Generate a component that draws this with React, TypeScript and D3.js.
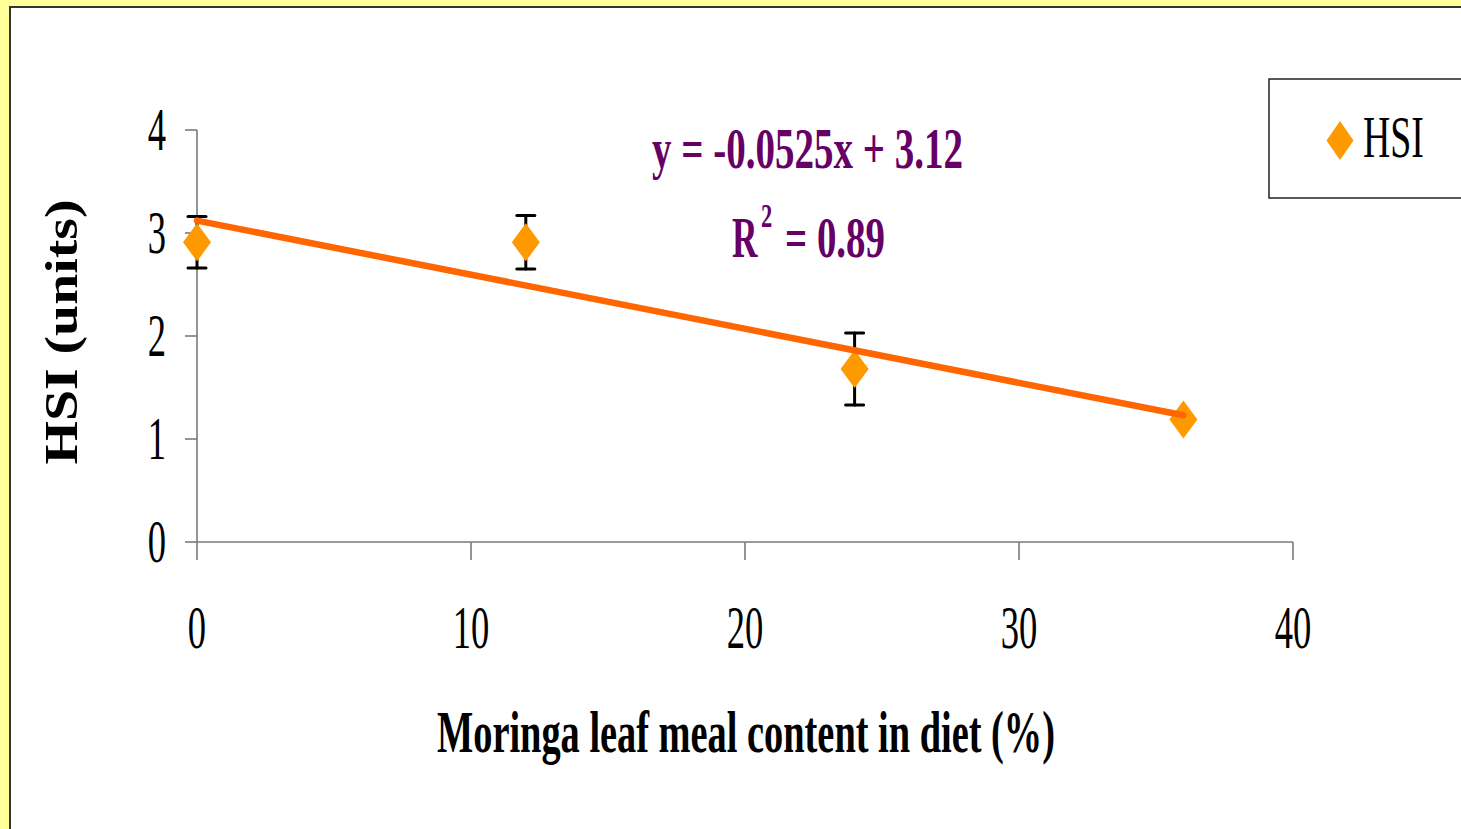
import React from "react";
import * as d3 from "d3";

// Dietary Moringa leaf meal inclusion (%) vs hepatosomatic index
const dietLevels = [0, 12, 24, 36];
const hsiMeans = [2.91, 2.91, 1.68, 1.19];
const hsiErrors = [0.25, 0.26, 0.35, 0];
const xTicks = [0, 10, 20, 30, 40];
const yTicks = [0, 1, 2, 3, 4];
const trendSlope = -0.0525;
const trendIntercept = 3.12;
const rSquared = 0.89;

const W = 1461;
const H = 829;
const SERIF = "'Liberation Serif', 'Times New Roman', serif";

type CTextProps = {
  x: number;
  y: number;
  text: string;
  size: number;
  sx?: number;
  anchor?: "start" | "middle" | "end";
  weight?: string;
  fill?: string;
  dy?: string;
};

// Horizontally condensed text
function CText({ x, y, text, size, sx = 0.6, anchor = "middle", weight = "normal", fill = "#000", dy }: CTextProps) {
  return (
    <text
      transform={`translate(${x},${y}) scale(${sx},1)`}
      textAnchor={anchor}
      fontFamily={SERIF}
      fontSize={size}
      fontWeight={weight}
      fill={fill}
      dy={dy}
    >
      {text}
    </text>
  );
}

function diamond(cx: number, cy: number, w: number, h: number) {
  const p = d3.path();
  p.moveTo(cx, cy - h / 2);
  p.lineTo(cx + w / 2, cy);
  p.lineTo(cx, cy + h / 2);
  p.lineTo(cx - w / 2, cy);
  p.closePath();
  return p.toString();
}

export default function App() {
  const x = d3.scaleLinear().domain([0, 40]).range([197, 1293]);
  const y = d3.scaleLinear().domain([0, 4]).range([542, 130]);

  const trend = d3
    .line<number>()
    .x((d) => x(d))
    .y((d) => y(trendSlope * d + trendIntercept));
  const trendEnds = [dietLevels[0], dietLevels[dietLevels.length - 1]];

  const axisColor = "#7a7a7a";
  const orange = "#FF9900";
  const lineOrange = "#FF6600";
  const purple = "#660066";

  return (
    <svg
      width={W}
      height={H}
      style={{ position: "absolute", left: 0, top: 0, display: "block" }}
    >
      <rect x={0} y={0} width={W} height={H} fill="#FFFF99" />
      <rect x={10} y={7} width={W + 20} height={H + 20} fill="#fff" stroke="#333" strokeWidth={2} />

      {/* axes */}
      <line x1={x(0)} x2={x(40)} y1={y(0)} y2={y(0)} stroke={axisColor} strokeWidth={1.6} />
      <line x1={x(0)} x2={x(0)} y1={y(4)} y2={y(0)} stroke={axisColor} strokeWidth={1.6} />
      {yTicks.map((t) => (
        <g key={`yt${t}`}>
          <line x1={x(0) - 12} x2={x(0)} y1={y(t)} y2={y(t)} stroke={axisColor} strokeWidth={1.6} />
          <CText x={x(0) - 31} y={y(t)} dy="0.33em" text={String(t)} size={61} sx={0.6} anchor="end" />
        </g>
      ))}
      {xTicks.map((t) => (
        <g key={`xt${t}`}>
          <line x1={x(t)} x2={x(t)} y1={y(0)} y2={y(0) + 18} stroke={axisColor} strokeWidth={1.6} />
          <CText x={x(t)} y={648} text={String(t)} size={61} sx={0.6} />
        </g>
      ))}

      {/* axis titles */}
      <text
        x={746}
        y={752}
        textAnchor="middle"
        fontFamily={SERIF}
        fontSize={60}
        fontWeight="bold"
        textLength={618}
        lengthAdjust="spacingAndGlyphs"
      >
        Moringa leaf meal content in diet (%)
      </text>
      <text
        transform="translate(77,332) rotate(-90)"
        textAnchor="middle"
        fontFamily={SERIF}
        fontSize={47}
        fontWeight="bold"
        textLength={265}
        lengthAdjust="spacingAndGlyphs"
      >
        HSI (units)
      </text>

      {/* error bars */}
      {dietLevels.map((d, i) =>
        hsiErrors[i] > 0 ? (
          <g key={`eb${i}`} stroke="#000" strokeWidth={3} strokeLinecap="round">
            <line x1={x(d)} x2={x(d)} y1={y(hsiMeans[i] + hsiErrors[i])} y2={y(hsiMeans[i] - hsiErrors[i])} />
            <line x1={x(d) - 9} x2={x(d) + 9} y1={y(hsiMeans[i] + hsiErrors[i])} y2={y(hsiMeans[i] + hsiErrors[i])} />
            <line x1={x(d) - 9} x2={x(d) + 9} y1={y(hsiMeans[i] - hsiErrors[i])} y2={y(hsiMeans[i] - hsiErrors[i])} />
          </g>
        ) : null
      )}

      {/* markers */}
      {dietLevels.map((d, i) => (
        <path key={`m${i}`} d={diamond(x(d), y(hsiMeans[i]), 28, 38)} fill={orange} />
      ))}

      {/* linear trend */}
      <path d={trend(trendEnds) || ""} fill="none" stroke={lineOrange} strokeWidth={6.5} strokeLinecap="round" />

      {/* regression equation */}
      <text
        x={652}
        y={168}
        fontFamily={SERIF}
        fontSize={57}
        fontWeight="bold"
        fill={purple}
        textLength={311}
        lengthAdjust="spacingAndGlyphs"
      >
        {`y = ${trendSlope}x + ${trendIntercept.toFixed(2)}`}
      </text>
      <CText x={732} y={257} text="R" size={57} sx={0.62} anchor="start" weight="bold" fill={purple} />
      <CText x={761} y={227} text="2" size={34} sx={0.66} anchor="start" weight="bold" fill={purple} />
      <text
        x={785}
        y={257}
        fontFamily={SERIF}
        fontSize={57}
        fontWeight="bold"
        fill={purple}
        textLength={100}
        lengthAdjust="spacingAndGlyphs"
      >
        {`= ${rSquared.toFixed(2)}`}
      </text>

      {/* legend */}
      <rect x={1269} y={79} width={220} height={119} fill="#fff" stroke="#222" strokeWidth={1.5} />
      <path d={diamond(1340, 140.5, 27, 39)} fill={orange} />
      <CText x={1363} y={157} text="HSI" size={60} sx={0.63} anchor="start" />
    </svg>
  );
}
